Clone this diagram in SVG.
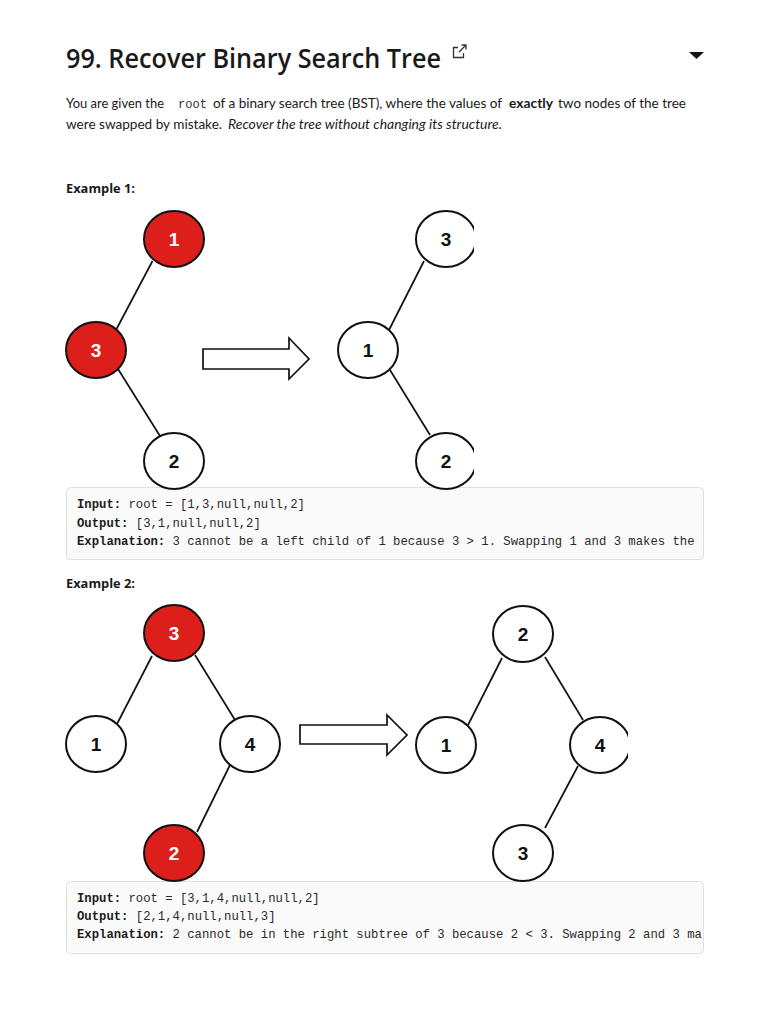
<svg xmlns="http://www.w3.org/2000/svg" width="768" height="1024" viewBox="0 0 768 1024">
<defs>
<style>
.title{font-family:"Open Sans","Noto Sans",sans-serif;font-size:27px;font-weight:600;fill:#1a1a1a}
.p{font-family:Lato,"Open Sans",sans-serif;font-size:13.5px;fill:#1a1a1a}
.pb{font-family:Lato,"Open Sans",sans-serif;font-size:13.5px;font-weight:700;fill:#1a1a1a}
.pi{font-family:Lato,"Open Sans",sans-serif;font-size:13.5px;font-style:italic;fill:#1a1a1a}
.pm{font-family:"Liberation Mono",monospace;font-size:12.5px;fill:#333}
.ex{font-family:"Open Sans","Noto Sans",sans-serif;font-size:13px;font-weight:700;fill:#1a1a1a}
.code{font-family:"Liberation Mono","DejaVu Sans Mono",monospace;font-size:12.25px;fill:#2a2a2a}
.code .b{font-weight:700;fill:#1a1a1a}
.box{fill:#fafafa;stroke:#e0e0e0;stroke-width:1}
.red ellipse{fill:#dc1f1a;stroke:#111;stroke-width:2}
.white ellipse{fill:#fff;stroke:#111;stroke-width:2}
.red text{fill:#fff}
.white text{fill:#111}
.node text{font-family:"Liberation Sans",Arial,sans-serif;font-size:19px;font-weight:700;text-anchor:middle}
.edge line{stroke:#111;stroke-width:1.7}
.arrow{fill:#fff;stroke:#111;stroke-width:1.7;stroke-linejoin:miter}
</style>
<clipPath id="c1"><rect x="300" y="200" width="174" height="300"/></clipPath>
<clipPath id="c2"><rect x="410" y="590" width="218" height="300"/></clipPath>
<clipPath id="cb1"><rect x="66" y="487" width="636" height="73"/></clipPath>
<clipPath id="cb2"><rect x="66" y="881" width="636" height="73"/></clipPath>
</defs>
<rect width="768" height="1024" fill="#fff"/>

<text class="title" x="66" y="68" textLength="375" lengthAdjust="spacingAndGlyphs">99. Recover Binary Search Tree</text>
<g id="extlink" fill="none" stroke="#333" stroke-width="1.3">
<path d="M458,47.5 H453.5 V57.5 H463.5 V53"/>
<path d="M459,52 L466,45 M461.5,45 H466 V49.5"/>
</g>
<polygon id="dropdown" points="689,52 704,52 696.5,59" fill="#111"/>

<text class="p" x="66" y="108" textLength="98" lengthAdjust="spacingAndGlyphs">You are given the</text>
<text class="pm" x="178" y="108" textLength="29" lengthAdjust="spacingAndGlyphs">root</text>
<text class="p" x="213" y="108" textLength="289" lengthAdjust="spacingAndGlyphs">of a binary search tree (BST), where the values of</text>
<text class="pb" x="509" y="108" textLength="44" lengthAdjust="spacingAndGlyphs">exactly</text>
<text class="p" x="558" y="108" textLength="128" lengthAdjust="spacingAndGlyphs">two nodes of the tree</text>
<text class="p" x="66" y="129" textLength="156" lengthAdjust="spacingAndGlyphs">were swapped by mistake.</text>
<text class="pi" x="228" y="129" textLength="274" lengthAdjust="spacingAndGlyphs">Recover the tree without changing its structure.</text>

<text class="ex" x="66" y="193" textLength="69" lengthAdjust="spacingAndGlyphs">Example 1:</text>

<rect class="box" x="66.5" y="487.5" width="637" height="72" rx="4"/>

<g id="connectors">
<g class="edge">
<line x1="152.5" y1="261" x2="116.5" y2="329"/>
<line x1="118" y1="369" x2="160" y2="436"/>
<g clip-path="url(#c1)">
<line x1="424" y1="261" x2="389" y2="330"/>
<line x1="390" y1="370" x2="430" y2="435"/>
</g>
<line x1="152" y1="656" x2="117" y2="724"/>
<line x1="195" y1="655" x2="235" y2="720"/>
<line x1="230" y1="765" x2="197" y2="832"/>
<g clip-path="url(#c2)">
<line x1="502" y1="658" x2="468" y2="725"/>
<line x1="545" y1="657" x2="583" y2="720"/>
<line x1="578" y1="766" x2="545" y2="828"/>
</g>
</g>
<polygon id="arrow1" class="arrow" points="203,349 289,349 289,338 309,359 289,379 289,369 203,369"/>
<polygon id="arrow2" class="arrow" points="300,725 387,725 387,715 407,735 387,755 387,744 300,744"/>
</g>

<g id="ex1-before">
<g id="n1a" class="node red"><ellipse cx="174" cy="239" rx="30" ry="28"/><text x="174" y="246">1</text></g>
<g id="n3a" class="node red"><ellipse cx="96" cy="350" rx="30" ry="28"/><text x="96" y="357">3</text></g>
<g id="n2a" class="node white"><ellipse cx="174" cy="461" rx="30" ry="28"/><text x="174" y="468">2</text></g>
</g>
<g id="ex1-after" clip-path="url(#c1)">
<g id="n3b" class="node white"><ellipse cx="446" cy="239" rx="30" ry="28"/><text x="446" y="246">3</text></g>
<g id="n1b" class="node white"><ellipse cx="368" cy="350" rx="30" ry="28"/><text x="368" y="357">1</text></g>
<g id="n2b" class="node white"><ellipse cx="446" cy="461" rx="30" ry="28"/><text x="446" y="468">2</text></g>
</g>

<g class="code" clip-path="url(#cb1)">
<text x="77" y="508"><tspan class="b">Input:</tspan> root = [1,3,null,null,2]</text>
<text x="77" y="527"><tspan class="b">Output:</tspan> [3,1,null,null,2]</text>
<text x="77" y="545"><tspan class="b">Explanation:</tspan> 3 cannot be a left child of 1 because 3 &gt; 1. Swapping 1 and 3 makes the</text>
</g>

<text class="ex" x="66" y="588" textLength="69" lengthAdjust="spacingAndGlyphs">Example 2:</text>

<rect class="box" x="66.5" y="881.5" width="637" height="72" rx="4"/>

<g id="ex2-before">
<g id="n3c" class="node red"><ellipse cx="174" cy="633" rx="30" ry="28"/><text x="174" y="640">3</text></g>
<g id="n1c" class="node white"><ellipse cx="96" cy="744" rx="30" ry="28"/><text x="96" y="751">1</text></g>
<g id="n4c" class="node white"><ellipse cx="250" cy="744" rx="30" ry="28"/><text x="250" y="751">4</text></g>
<g id="n2c" class="node red"><ellipse cx="174" cy="853" rx="30" ry="28"/><text x="174" y="860">2</text></g>
</g>
<g id="ex2-after" clip-path="url(#c2)">
<g id="n2d" class="node white"><ellipse cx="523" cy="634" rx="30" ry="28"/><text x="523" y="641">2</text></g>
<g id="n1d" class="node white"><ellipse cx="446" cy="745" rx="30" ry="28"/><text x="446" y="752">1</text></g>
<g id="n4d" class="node white"><ellipse cx="600" cy="745" rx="30" ry="28"/><text x="600" y="752">4</text></g>
<g id="n3d" class="node white"><ellipse cx="523" cy="853" rx="30" ry="28"/><text x="523" y="860">3</text></g>
</g>

<g class="code" clip-path="url(#cb2)">
<text x="77" y="902"><tspan class="b">Input:</tspan> root = [3,1,4,null,null,2]</text>
<text x="77" y="920"><tspan class="b">Output:</tspan> [2,1,4,null,null,3]</text>
<text x="77" y="938"><tspan class="b">Explanation:</tspan> 2 cannot be in the right subtree of 3 because 2 &lt; 3. Swapping 2 and 3 ma</text>
</g>
</svg>
